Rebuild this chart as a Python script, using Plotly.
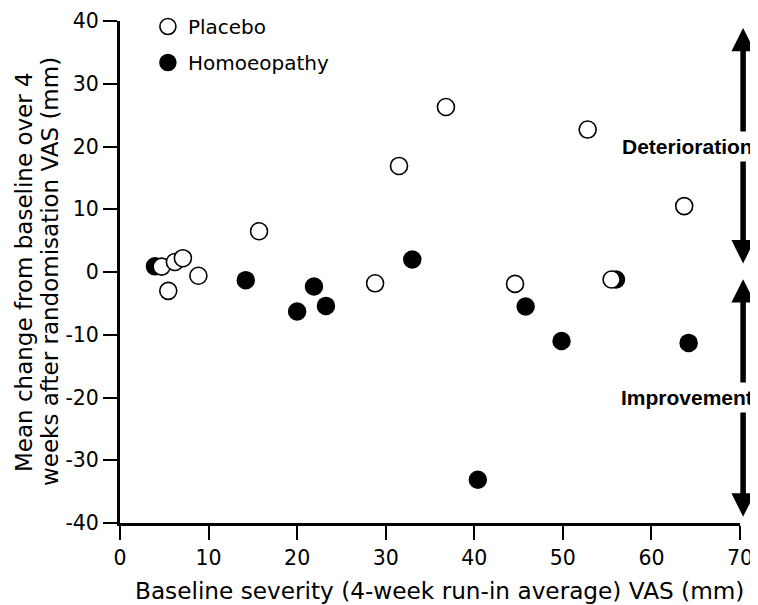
import plotly.graph_objects as go

# Data
placebo_x = [4.7, 6.2, 7.1, 5.45, 8.85, 15.7, 28.8, 31.5, 36.8, 44.6, 52.8, 55.5, 63.7]
placebo_y = [0.85, 1.6, 2.2, -3.0, -0.6, 6.5, -1.8, 16.9, 26.3, -1.9, 22.7, -1.2, 10.5]

homoeo_x = [3.95, 14.2, 20.0, 21.9, 23.25, 33.0, 40.4, 45.8, 49.85, 56.0, 64.2]
homoeo_y = [0.9, -1.3, -6.3, -2.3, -5.4, 2.0, -33.1, -5.5, -11.0, -1.2, -11.3]

x_ticks = [0, 10, 20, 30, 40, 50, 60, 70]
y_ticks = [-40, -30, -20, -10, 0, 10, 20, 30, 40]

FONT = "DejaVu Sans, Liberation Sans, sans-serif"
BOLD = "Liberation Sans, Arial, sans-serif"

fig = go.Figure()
fig.add_trace(go.Scatter(
    x=homoeo_x, y=homoeo_y, mode="markers", name="Homoeopathy",
    legendgroup="h", legendrank=2,
    marker=dict(size=17, color="black", line=dict(color="black", width=1.5)),
    cliponaxis=False,
))
fig.add_trace(go.Scatter(
    x=placebo_x, y=placebo_y, mode="markers", name="Placebo",
    legendgroup="p", legendrank=1,
    marker=dict(size=17, color="white", line=dict(color="black", width=1.6)),
    cliponaxis=False,
))

# Double-headed arrows on the right (paper x so they sit beyond the axis end)
arrow_x = 1.005
fig.add_annotation(
    x=arrow_x, y=38.9, xref="paper", yref="y", axref="pixel", ayref="pixel",
    ax=0, ay=237, text="", showarrow=True, arrowside="end+start", arrowhead=2,
    arrowsize=0.85, arrowwidth=5.5, arrowcolor="black",
)
fig.add_annotation(
    x=arrow_x, y=-39.0, xref="paper", yref="y", axref="pixel", ayref="pixel",
    ax=0, ay=-239, text="", showarrow=True, arrowside="end+start", arrowhead=2,
    arrowsize=0.85, arrowwidth=5.5, arrowcolor="black",
)

for label, yv in [("Deterioration", 20), ("Improvement", -20)]:
    fig.add_annotation(
        x=1.027, y=yv, xref="paper", yref="y", xanchor="right", yanchor="middle",
        text="<b>" + label + "</b>", showarrow=False, bgcolor="white", borderpad=3,
        font=dict(family=BOLD, size=21, color="black"),
    )

# Axis titles
fig.add_annotation(
    x=0.516, y=0, xref="paper", yref="paper", xanchor="center", yanchor="middle",
    yshift=-67, showarrow=False,
    text="Baseline severity (4-week run-in average) VAS (mm)",
    font=dict(family=FONT, size=23.2, color="black"),
)
fig.add_annotation(
    x=0, y=0.5, xref="paper", yref="paper", xanchor="center", yanchor="middle",
    xshift=-96, showarrow=False, textangle=-90,
    text="Mean change from baseline over 4",
    font=dict(family=FONT, size=23, color="black"),
)
fig.add_annotation(
    x=0, y=0.5, xref="paper", yref="paper", xanchor="center", yanchor="middle",
    xshift=-70, showarrow=False, textangle=-90,
    text="weeks after randomisation VAS (mm)",
    font=dict(family=FONT, size=23, color="black"),
)

# The page places the figure 8px in from the top-left corner, so the figure
# is 750x597 and its margins are set to put the axes where the reference has them.
fig.update_layout(
    width=750, height=597,
    margin=dict(l=112, r=18, t=13, b=82, autoexpand=False),
    plot_bgcolor="white", paper_bgcolor="white",
    font=dict(family=FONT, color="black", size=20),
    showlegend=True,
    legend=dict(
        x=0.045, y=1.028, xanchor="left", yanchor="top",
        traceorder="grouped", tracegroupgap=7,
        font=dict(size=20, family=FONT), bgcolor="rgba(0,0,0,0)",
        itemsizing="trace",
    ),
    xaxis=dict(
        range=[0, 70], tickvals=x_ticks, ticktext=[str(v) for v in x_ticks],
        showline=True, linecolor="black", linewidth=3, mirror=False,
        ticks="outside", ticklen=14, tickwidth=2, tickcolor="black",
        showgrid=False, zeroline=False, automargin=False,
        tickfont=dict(size=20.5),
    ),
    yaxis=dict(
        range=[-40, 40], tickvals=y_ticks, ticktext=[str(v) for v in y_ticks],
        showline=True, linecolor="black", linewidth=3, mirror=False,
        ticks="outside", ticklen=14, tickwidth=2, tickcolor="black",
        showgrid=False, zeroline=False, automargin=False,
        tickfont=dict(size=20.5),
    ),
)

fig.write_html("out.html")
